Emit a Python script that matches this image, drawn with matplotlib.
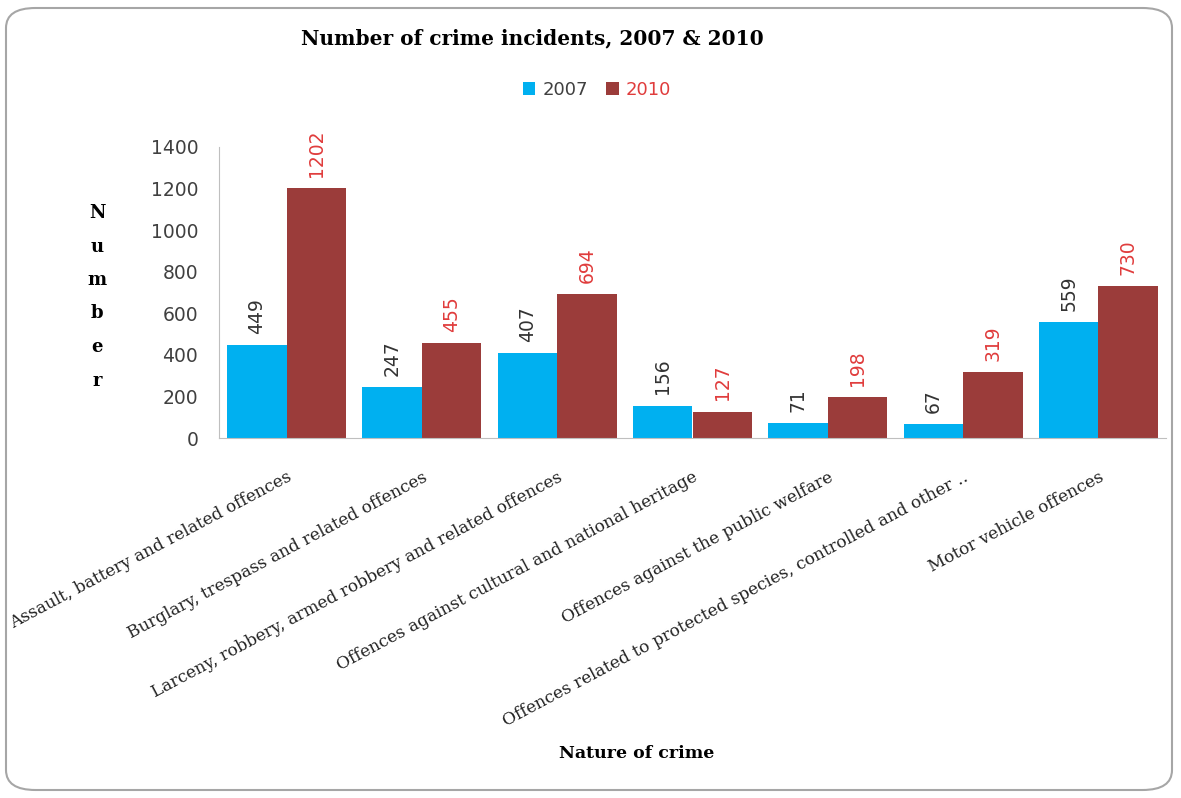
import matplotlib
matplotlib.use("Agg")
import matplotlib.pyplot as plt
from matplotlib.patches import FancyBboxPatch
import numpy as np

categories = [
    "Assault, battery and related offences",
    "Burglary, trespass and related offences",
    "Larceny, robbery, armed robbery and related offences",
    "Offences against cultural and national heritage",
    "Offences against the public welfare",
    "Offences related to protected species, controlled and other ..",
    "Motor vehicle offences",
]
values_2007 = [449, 247, 407, 156, 71, 67, 559]
values_2010 = [1202, 455, 694, 127, 198, 319, 730]
series_names = ["2007", "2010"]
y_ticks = [0, 200, 400, 600, 800, 1000, 1200, 1400]

c2007 = "#00B0F0"
c2010 = "#9B3C3A"
red_text = "#E03C3C"
serif = "DejaVu Serif"
sans = "DejaVu Sans"

fig = plt.figure(figsize=(11.81, 7.98), dpi=100)
border = FancyBboxPatch((6/1181, 8/798), 1166/1181, 782/798,
                        boxstyle="round,pad=0,rounding_size=0.025",
                        transform=fig.transFigure, fill=False,
                        edgecolor="#A6A6A6", linewidth=1.5)
fig.patches.append(border)

ax = fig.add_axes([219/1181, 1 - 438/798, (1166-219)/1181, (438-147)/798])
x = np.arange(len(categories))
w = 0.44
b1 = ax.bar(x - w/2, values_2007, w, color=c2007, label=series_names[0])
b2 = ax.bar(x + w/2, values_2010, w, color=c2010, label=series_names[1])

ax.set_xlim(-0.5, len(categories) - 0.5)
ax.set_ylim(0, 1400)
ax.set_yticks(y_ticks)
ax.set_yticklabels([str(t) for t in y_ticks], fontsize=13.5, color="#404040", family=sans)
ax.tick_params(axis="y", length=0, pad=15)
ax.tick_params(axis="x", length=0, pad=22)
for s in ["top", "right"]:
    ax.spines[s].set_visible(False)
ax.spines["left"].set_color("#BFBFBF")
ax.spines["bottom"].set_color("#BFBFBF")

ax.set_xticks(x)
ax.set_xticklabels(categories, rotation=28, ha="right", va="top",
                   rotation_mode="anchor", fontsize=12.2, family=serif, color="#222222")

for rect, v in zip(b1, values_2007):
    ax.annotate(str(v), (rect.get_x() + rect.get_width()/2, v), xytext=(0, 8),
                textcoords="offset points", rotation=90, ha="center", va="bottom",
                fontsize=13.5, color="#333333", family=sans)
for rect, v in zip(b2, values_2010):
    ax.annotate(str(v), (rect.get_x() + rect.get_width()/2, v), xytext=(0, 8),
                textcoords="offset points", rotation=90, ha="center", va="bottom",
                fontsize=13.5, color=red_text, family=sans)

fig.text(532/1181, 1 - 38/798, "Number of crime incidents, 2007 & 2010",
         ha="center", va="center", fontsize=14.5, fontweight="bold", family=serif)

leg = fig.legend(handles=[b1, b2], labels=series_names, loc="center",
                 bbox_to_anchor=(597/1181, 1 - 90/798), ncol=2, frameon=False,
                 handlelength=0.7, handleheight=0.7, handletextpad=0.4,
                 columnspacing=1.0, prop={"family": sans, "size": 13})
leg.get_texts()[0].set_color("#404040")
leg.get_texts()[1].set_color(red_text)

for i, ch in enumerate("Number"):
    fig.text(97/1181, 1 - (213 + i*33.5)/798, ch, ha="center", va="center",
             fontsize=13, fontweight="bold", family=serif)

fig.text(637/1181, 1 - 753/798, "Nature of crime", ha="center", va="center",
         fontsize=12.5, fontweight="bold", family=serif)

fig.savefig("out.png", dpi=100)
